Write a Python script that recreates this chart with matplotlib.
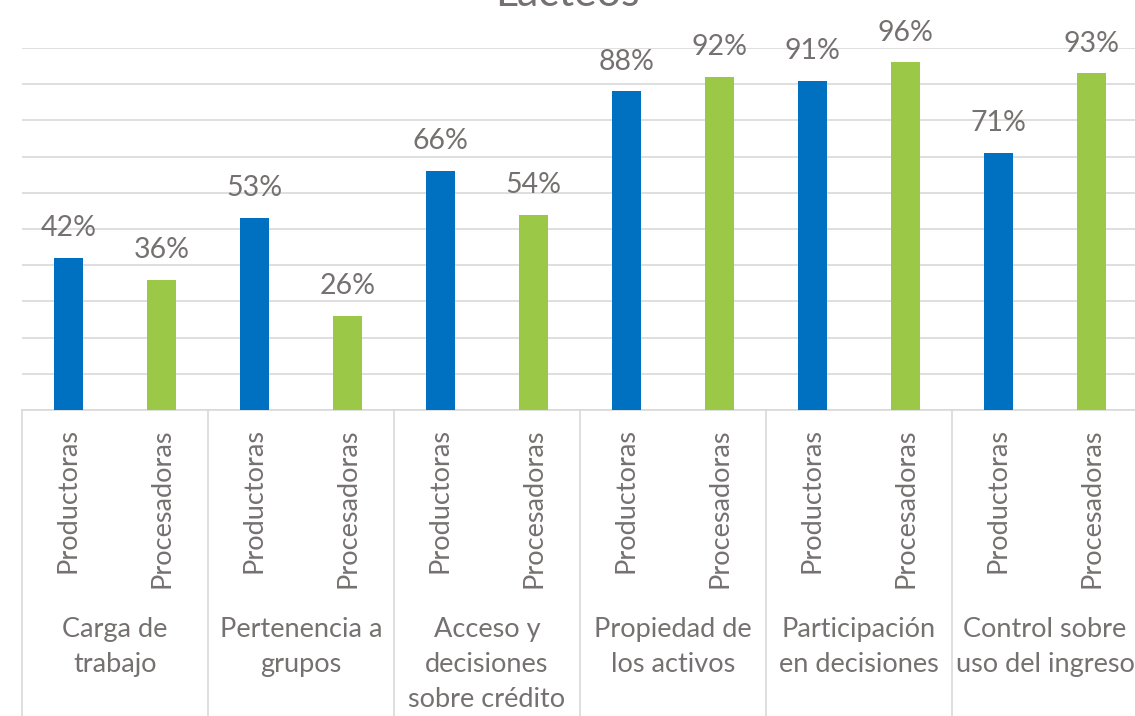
import matplotlib.pyplot as plt

# Data
categories = ["Carga de\ntrabajo", "Pertenencia a\ngrupos", "Acceso y\ndecisiones\nsobre crédito",
              "Propiedad de\nlos activos", "Participación\nen decisiones", "Control sobre\nuso del ingreso"]
groups = ["Productoras", "Procesadoras"]
productoras = [42, 53, 66, 88, 91, 71]
procesadoras = [36, 26, 54, 92, 96, 93]

blue = "#0070C0"
green = "#9BC847"
text_col = "#767171"
grid_col = "#D9D9D9"

plt.rcParams["font.family"] = ["Lato", "DejaVu Sans"]

W, H = 1135, 716
fig = plt.figure(figsize=(W / 100, H / 100), dpi=100)
# plot area in pixels: x 22..1138, y 48..410
ax = fig.add_axes([22 / W, (H - 410) / H, 1116 / W, 362 / H])

x_prod = [2 * i + 0.5 for i in range(len(categories))]
x_proc = [2 * i + 1.5 for i in range(len(categories))]
bw = 0.32

b1 = ax.bar(x_prod, productoras, width=bw, color=blue, zorder=3)
b2 = ax.bar(x_proc, procesadoras, width=bw, color=green, zorder=3)
for bars, vals in ((b1, productoras), (b2, procesadoras)):
    for b, v in zip(bars, vals):
        ax.annotate(f"{v}%", (b.get_x() + b.get_width() / 2, v), xytext=(0, 12),
                    textcoords="offset points", ha="center", va="bottom",
                    fontsize=20.5, color=text_col, zorder=4)

ax.set_xlim(0, 12)
ax.set_ylim(0, 100)
ax.set_yticks(range(0, 101, 10))
ax.set_yticklabels([])
ax.tick_params(axis="y", length=0)
ax.grid(axis="y", color=grid_col, lw=1.2, zorder=0)
for s in ["top", "left", "right"]:
    ax.spines[s].set_visible(False)
ax.spines["bottom"].set_color(grid_col)
ax.spines["bottom"].set_linewidth(1.2)

ax.set_xticks(x_prod + x_proc)
ax.set_xticklabels(groups[:1] * len(categories) + groups[1:] * len(categories),
                   rotation=90, fontsize=19.5, color=text_col)
ax.tick_params(axis="x", length=0, pad=13)

# group separators and category labels
trans = ax.get_xaxis_transform()
for i in range(len(categories) + 1):
    ax.plot([2 * i, 2 * i], [0, -(H - 410) / 362], transform=trans, color=grid_col,
            lw=1.2, clip_on=False)
for i, cat in enumerate(categories):
    ax.text(2 * i + 1, -(617 - 410) / 362, cat, transform=trans, ha="center", va="top",
            fontsize=19.5, color=text_col, linespacing=1.5)

fig.text(0.5, 1 - 6 / H, "Lácteos", ha="center", va="baseline", fontsize=31, color=text_col)

fig.savefig("out.png", dpi=100)
